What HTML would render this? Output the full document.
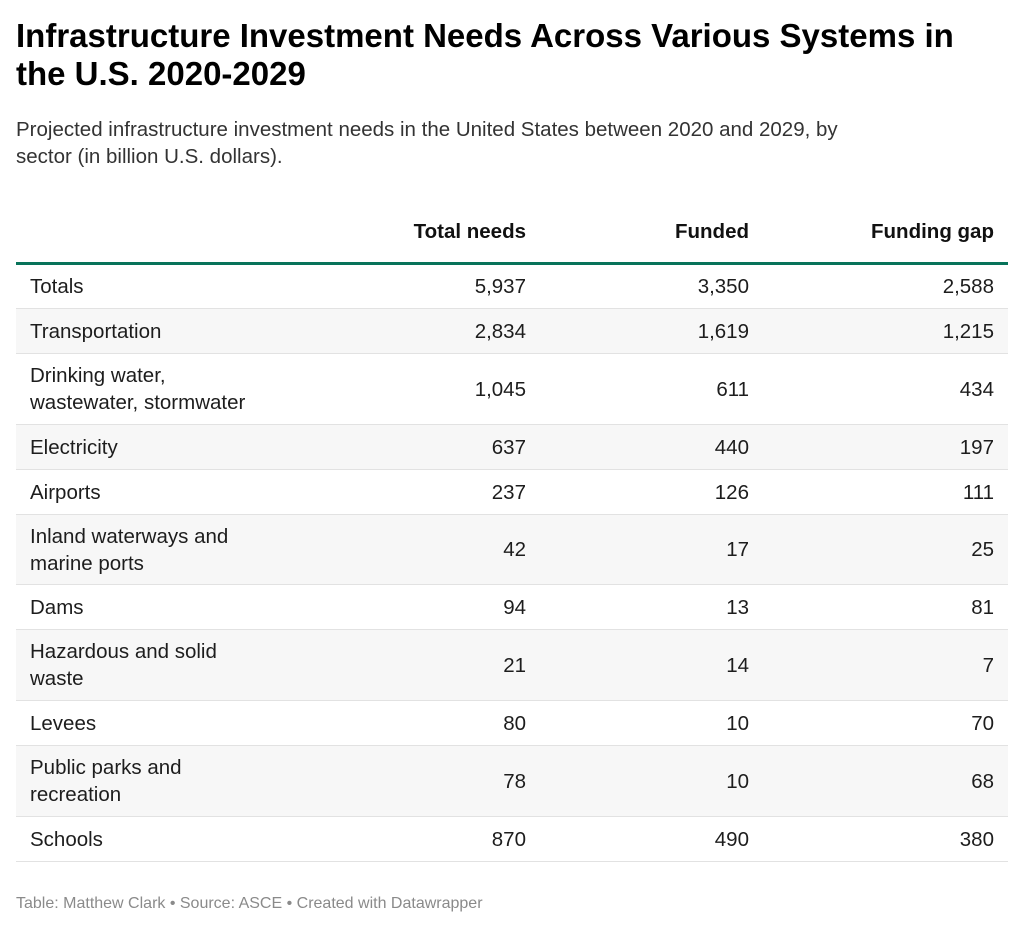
<!DOCTYPE html>
<html><head><meta charset="utf-8"><style>
body{margin:0;width:1024px;height:932px;background:#fff;font-family:"Liberation Sans",sans-serif;color:#1d1d1d;position:relative;overflow:hidden}
.t{position:absolute;left:16px;top:17px;width:1010px;font-size:33px;font-weight:bold;line-height:38px;color:#000;white-space:nowrap}
.s{position:absolute;left:16px;top:116px;width:1000px;font-size:20.5px;line-height:27px;color:#333;white-space:nowrap}
table{position:absolute;left:16px;top:187px;width:992px;border-collapse:collapse;font-size:20.5px}
th{font-weight:bold;text-align:right;height:57px;vertical-align:bottom;padding:0 14px 18px 14px;border-bottom:3px solid #08735a;color:#111}
td{border-bottom:1px solid #e2e2e2;padding:0 14px;line-height:27px}
td.n{text-align:right}
tr.g td{background:#f7f7f7}
.f{position:absolute;left:16px;top:895px;font-size:16px;color:#8a8a8a}
</style></head><body>
<div class="t">Infrastructure Investment Needs Across Various Systems in<br>the U.S. 2020-2029</div>
<div class="s">Projected infrastructure investment needs in the United States between 2020 and 2029, by<br>sector (in billion U.S. dollars).</div>
<table>
<colgroup><col style="width:272px"><col style="width:252px"><col style="width:223px"><col style="width:245px"></colgroup>
<thead><tr><th></th><th>Total needs</th><th>Funded</th><th>Funding gap</th></tr></thead>
<tbody id="tb"></tbody></table>
<div class="f">Table: Matthew Clark • Source: ASCE • Created with Datawrapper</div>
<script>
const sectors=["Totals","Transportation","Drinking water, wastewater, stormwater","Electricity","Airports","Inland waterways and marine ports","Dams","Hazardous and solid waste","Levees","Public parks and recreation","Schools"];
const totalNeeds=["5,937","2,834","1,045","637","237","42","94","21","80","78","870"];
const funded=["3,350","1,619","611","440","126","17","13","14","10","10","490"];
const fundingGap=["2,588","1,215","434","197","111","25","81","7","70","68","380"];
const heights=[45,45,71,45,45,70,45,71,45,71,45];
const tb=document.getElementById('tb');
sectors.forEach((s,i)=>{
  const tr=document.createElement('tr');
  
  
  if(i%2===1)tr.className='g';
  tr.style.height=heights[i]+'px';
  [s,totalNeeds[i],funded[i],fundingGap[i]].forEach((v,j)=>{
    const td=document.createElement('td');
    
    
    if(j>0)td.className='n';
    if(j===0&&s.length>22){td.innerHTML=s.replace(/^(Drinking water,|Inland waterways and|Hazardous and solid|Public parks and) /,'$1<br>');}
    else td.textContent=v;
    tr.appendChild(td);
  });
  tb.appendChild(tr);
});
</script>
</body></html>
